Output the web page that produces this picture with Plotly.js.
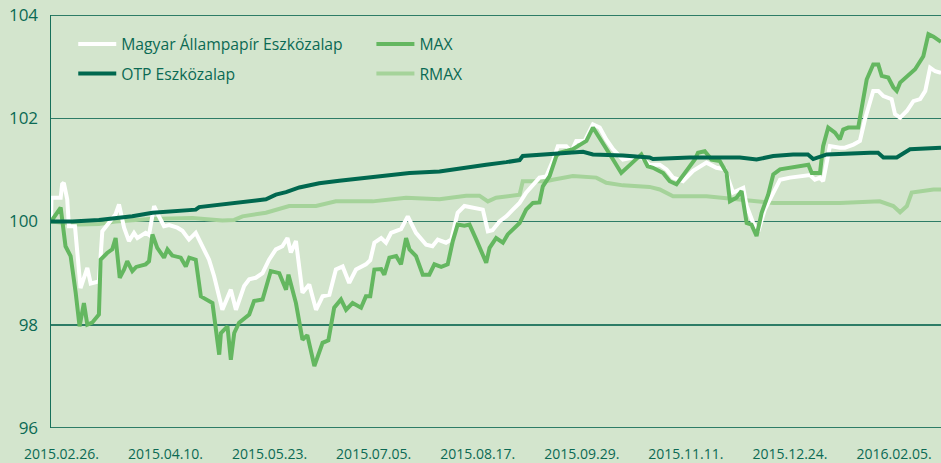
<!DOCTYPE html>
<html>
<head>
<meta charset="utf-8">
<script src="https://cdn.plot.ly/plotly-3.0.1.min.js"></script>
<style>html,body{margin:0;padding:0;background:#d3e5cd;}#chart{width:941px;height:463px;}</style>
</head>
<body>
<div id="chart"></div>
<script>
// x values: days after 2015.02.26.
const tickDays = [0, 43, 86, 129, 172, 215, 258, 301, 344];
const tickLabels = ["2015.02.26.", "2015.04.10.", "2015.05.23.", "2015.07.05.", "2015.08.17.", "2015.09.29.", "2015.11.11.", "2015.12.24.", "2016.02.05."];
const yTicks = [96, 98, 100, 102, 104];

const magyarDays = [-4.3,-4.1,-0.3,0.3,1.0,2.4,3.1,5.6,7.9,10.7,12.1,15.5,16.9,22.4,23.8,25.9,27.9,30.0,31.4,34.8,36.2,38.3,40.3,42.4,44.5,47.9,50.0,52.7,55.5,58.2,61.0,63.1,66.5,70.0,72.1,75.5,77.6,80.3,83.1,85.8,88.6,91.3,93.4,94.8,96.9,99.6,102.4,105.2,107.9,110.7,113.4,116.2,118.9,121.7,125.8,127.6,129.3,132.1,134.1,136.2,140.3,143.1,146.5,150.7,153.3,155.5,158.9,161.1,163.7,166.5,169.3,174.1,176.2,178.1,181.0,183.8,186.5,189.3,192.0,194.8,197.5,200.3,203.0,205.1,208.6,210.7,212.7,216.2,219.6,222.4,225.1,227.9,232.0,236.1,238.9,243.0,247.2,250.0,252.7,256.8,261.0,266.5,270.6,274.1,277.5,281.7,283.1,285.8,287.9,290.6,293.4,296.9,301.0,305.1,309.3,311.3,313.4,314.7,317.5,321.6,323.7,327.2,329.9,332.0,334.1,335.4,337.5,339.6,343.0,344.4,346.5,349.3,352.0,354.8,356.9,358.9,361.0,363.4];
const magyarValues = [100.0,100.46,100.46,100.72,100.75,100.43,99.91,99.91,98.71,99.1,98.8,98.84,99.81,100.14,100.33,99.88,99.62,99.78,99.68,99.78,99.74,100.3,100.1,99.91,99.93,99.88,99.82,99.65,99.78,99.52,99.26,98.94,98.29,98.68,98.29,98.75,98.88,98.91,99.0,99.26,99.46,99.52,99.68,99.4,99.62,98.62,98.78,98.29,98.55,98.58,99.07,99.13,98.81,99.07,99.17,99.25,99.59,99.68,99.59,99.78,99.85,100.1,99.78,99.55,99.52,99.65,99.59,99.65,100.17,100.3,100.28,100.23,99.81,99.83,100.0,100.1,100.23,100.36,100.56,100.72,100.85,100.87,101.17,101.46,101.46,101.36,101.56,101.56,101.88,101.82,101.59,101.4,101.2,101.24,101.27,101.1,101.1,101.01,100.85,100.78,100.98,101.14,101.04,101.01,100.56,100.65,100.3,99.97,99.81,100.23,100.49,100.81,100.85,100.88,100.9,100.81,100.85,100.78,101.46,101.43,101.43,101.49,101.56,101.98,102.3,102.53,102.53,102.43,102.37,102.08,102.01,102.14,102.33,102.37,102.53,102.98,102.91,102.88];

const otpDays = [-4.3,4.5,15.5,19.7,29.3,37.6,45.8,55.5,56.9,70.7,84.5,88.6,92.8,98.3,106.5,114.8,125.8,136.9,143.8,156.2,167.2,175.5,183.8,189.3,190.6,201.7,208.6,215.5,219.6,232.0,243.0,244.4,259.6,280.3,287.2,294.1,302.3,308.4,310.6,316.2,334.1,337.4,339.6,345.1,350.6,363.4];
const otpValues = [100.0,100.0,100.03,100.05,100.1,100.17,100.2,100.23,100.28,100.36,100.43,100.52,100.57,100.66,100.74,100.79,100.84,100.9,100.94,100.97,101.05,101.1,101.15,101.19,101.27,101.3,101.32,101.35,101.3,101.28,101.24,101.21,101.24,101.24,101.2,101.27,101.3,101.3,101.21,101.3,101.33,101.33,101.24,101.24,101.4,101.43];

const maxDays = [-4.3,-0.3,1.7,3.8,5.9,7.5,9.3,10.7,12.7,15.5,16.2,18.9,21.0,22.4,24.1,25.9,27.2,29.3,30.9,34.8,36.2,37.6,39.6,42.4,43.8,45.8,49.3,51.4,52.8,55.5,57.6,62.4,65.2,65.9,68.6,70.0,71.4,73.4,77.6,79.6,83.1,86.5,90.0,92.8,93.8,96.9,99.6,101.6,104.5,107.9,110.3,112.7,115.5,117.6,120.3,123.8,125.8,127.6,129.3,132.1,133.4,135.5,138.3,140.3,142.4,143.8,146.5,149.3,152.0,154.1,156.9,159.6,161.7,163.7,166.5,168.6,171.4,175.5,176.9,179.6,182.4,184.4,189.3,192.0,194.8,197.5,198.9,201.7,204.5,205.8,211.3,216.9,219.6,223.7,227.9,231.3,234.8,239.6,242.2,244.4,248.6,251.3,254.1,257.5,261.7,263.0,265.8,268.6,272.0,274.8,276.2,278.9,281.0,283.1,285.1,287.2,289.3,292.0,294.1,296.9,301.0,305.1,308.6,310.0,313.4,314.7,316.8,319.6,321.6,323.0,325.1,329.2,330.6,332.7,335.4,337.5,338.9,341.6,343.7,345.1,346.5,350.6,352.7,356.1,358.2,360.3,363.4];
const maxValues = [100.0,100.27,99.52,99.33,98.62,97.97,98.42,98.0,98.04,98.2,99.26,99.39,99.46,99.68,98.91,99.07,99.23,99.04,99.12,99.17,99.23,99.75,99.49,99.3,99.46,99.34,99.3,99.13,99.3,99.26,98.55,98.42,97.42,97.84,97.97,97.32,97.84,98.04,98.2,98.46,98.49,99.04,99.0,98.68,98.97,98.42,97.71,97.8,97.2,97.65,97.7,98.33,98.49,98.29,98.42,98.33,98.55,98.55,99.07,99.08,98.97,99.3,99.33,99.17,99.68,99.46,99.33,98.97,98.97,99.17,99.12,99.17,99.62,99.94,99.92,99.94,99.65,99.2,99.49,99.68,99.59,99.75,99.97,100.23,100.36,100.37,100.68,100.88,101.27,101.33,101.4,101.56,101.82,101.53,101.2,100.94,101.1,101.3,101.07,101.04,100.94,100.78,100.72,100.94,101.2,101.33,101.36,101.2,101.17,100.94,100.39,100.46,100.59,99.97,99.94,99.72,100.17,100.52,100.91,101.01,101.04,101.06,101.1,100.94,100.94,101.46,101.82,101.72,101.59,101.78,101.82,101.82,102.24,102.75,103.04,103.04,102.82,102.79,102.6,102.53,102.69,102.85,102.95,103.2,103.63,103.58,103.48];

const rmaxDays = [-4.3,7.2,15.5,22.4,36.2,54.1,59.0,66.5,71.4,74.8,84.5,94.1,105.2,113.4,128.6,142.4,156.2,167.2,172.7,176.2,179.6,189.3,190.6,200.3,203.0,211.3,221.0,225.1,232.0,243.0,247.2,252.7,266.5,280.3,294.1,321.6,338.1,343.7,346.5,349.3,351.3,360.3,363.4];
const rmaxValues = [100.0,99.94,99.95,100.0,100.05,100.07,100.05,100.02,100.03,100.1,100.17,100.3,100.3,100.39,100.39,100.46,100.43,100.5,100.5,100.39,100.46,100.52,100.78,100.78,100.81,100.88,100.85,100.75,100.7,100.67,100.62,100.49,100.49,100.43,100.36,100.36,100.39,100.3,100.18,100.3,100.56,100.62,100.62];

const seriesNames = ["Magyar Állampapír Eszközalap", "OTP Eszközalap", "MAX", "RMAX"];

const txt = '#0b6a54';
const gridCol = '#2d7c66';
const font = '"Open Sans", "Noto Sans", sans-serif';

const traces = [
  {x: rmaxDays, y: rmaxValues, name: seriesNames[3], mode: 'lines', line: {color: '#a5d39a', width: 4}, legend: 'legend2', legendgroup: 'g4', legendrank: 2},
  {x: magyarDays, y: magyarValues, name: seriesNames[0], mode: 'lines', line: {color: '#ffffff', width: 4}, legend: 'legend', legendgroup: 'g1', legendrank: 1},
  {x: maxDays, y: maxValues, name: seriesNames[2], mode: 'lines', line: {color: '#64b760', width: 4}, legend: 'legend2', legendgroup: 'g3', legendrank: 1},
  {x: otpDays, y: otpValues, name: seriesNames[1], mode: 'lines', line: {color: '#00684f', width: 4}, legend: 'legend', legendgroup: 'g2', legendrank: 2}
];

const legendCommon = {
  bgcolor: 'rgba(0,0,0,0)', borderwidth: 0, font: {family: font, size: 15.7, color: txt},
  yanchor: 'top', xanchor: 'left', tracegroupgap: 6, itemwidth: 38, traceorder: 'grouped'
};

// gridlines at the range edges (Plotly omits them there)
const edgeLines = [yTicks[0], yTicks[yTicks.length - 1]].map(v => ({
  type: 'line', xref: 'paper', yref: 'y', x0: 0, x1: 1, y0: v, y1: v,
  line: {color: gridCol, width: 2}, layer: 'below'
}));

const layout = {
  width: 941, height: 463,
  margin: {l: 51, r: 0, t: 15, b: 35, pad: 0},
  paper_bgcolor: '#d3e5cd', plot_bgcolor: '#d3e5cd',
  font: {family: font, color: txt},
  showlegend: true,
  shapes: edgeLines,
  xaxis: {
    range: [-4.3, 363.4], tickvals: tickDays, ticktext: tickLabels,
    showgrid: false, zeroline: false, showline: false, ticks: '',
    tickfont: {family: font, size: 14, color: txt}, ticklabelstandoff: 16, fixedrange: true
  },
  yaxis: {
    range: [96, 104], tickvals: yTicks, ticktext: yTicks.map(String),
    showgrid: true, gridcolor: gridCol, gridwidth: 1.5, zeroline: false,
    showline: true, linecolor: '#16705a', linewidth: 1.5, ticks: '',
    tickfont: {family: font, size: 17, color: txt}, ticklabelstandoff: 8, fixedrange: true
  },
  legend: Object.assign({}, legendCommon, {x: 0.025, y: 0.97}),
  legend2: Object.assign({}, legendCommon, {x: 0.36, y: 0.97})
};

Plotly.newPlot('chart', traces, layout, {displayModeBar: false, staticPlot: true});
</script>
</body>
</html>
